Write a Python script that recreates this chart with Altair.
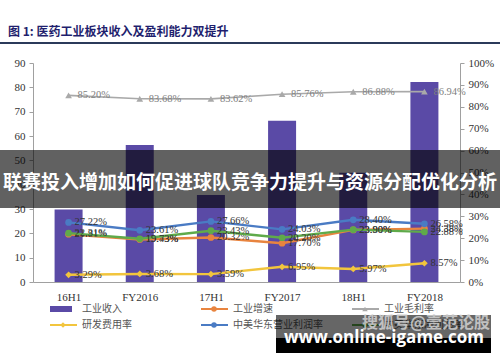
import altair as alt
import pandas as pd

categories = ["16H1", "FY2016", "17H1", "FY2017", "18H1", "FY2018"]
revenue = [29.8, 56.3, 35.8, 66.3, 44.9, 82.2]
growth = [0.2181, 0.1943, 0.2032, 0.1770, 0.2380, 0.2438]
gross_margin = [0.8520, 0.8368, 0.8362, 0.8576, 0.8688, 0.8694]
rd_ratio = [0.0329, 0.0368, 0.0359, 0.0695, 0.0597, 0.0857]
op_margin = [0.2722, 0.2361, 0.2766, 0.2403, 0.2840, 0.2658]
net_margin = [0.2231, 0.1973, 0.2343, 0.2020, 0.2390, 0.2288]

bar_name = "工业收入"
bar_color = "#5A4AA6"
line_series = ["工业毛利率", "研发费用率", "工业增速", "中美华东净利润率", "中美华东营业利润率"]
line_values = [gross_margin, rd_ratio, growth, net_margin, op_margin]
line_colors = ["#A9A9A9", "#F2C53D", "#E8843F", "#5FAA4A", "#4A7BC4"]
line_shapes = ["triangle-up", "diamond", "circle", "circle", "circle"]
label_colors = ["#808080", "#333333", "#333333", "#333333", "#333333"]

legend_order = ["工业收入", "工业增速", "工业毛利率", "研发费用率", "中美华东营业利润率", "中美华东净利润率"]

title_text = "图 1: 医药工业板块收入及盈利能力双提升"
banner_text = "联赛投入增加如何促进球队竞争力提升与资源分配优化分析"
wm_top = "搜狐号@壹范论股"
wm_url = "www.online-igame.com"

SERIF = "Liberation Serif"
CJK = "Noto Sans CJK SC"

bar_df = pd.DataFrame({"cat": categories, "rev": revenue})
rows = []
for s, vals in zip(line_series, line_values):
    for c, v in zip(categories, vals):
        rows.append({"cat": c, "series": s, "value": v, "label": f"{v*100:.2f}%"})
line_df = pd.DataFrame(rows)

xenc = alt.X("cat:N", sort=categories, title=None,
             scale=alt.Scale(type="point", padding=0.5),
             axis=alt.Axis(labelFont=SERIF, labelFontSize=11, labelColor="#333333",
                           labelAngle=0, ticks=False, domainColor="#A0A0A0",
                           labelPadding=9))

bars = alt.Chart(bar_df).mark_bar(size=28, color=bar_color).encode(
    x=xenc,
    y=alt.Y("rev:Q", title=None, scale=alt.Scale(domain=[0, 90], nice=False),
            axis=alt.Axis(values=list(range(0, 91, 10)), grid=False,
                          labelFont=SERIF, labelFontSize=11, labelColor="#333333",
                          domainColor="#A0A0A0", tickColor="#A0A0A0", tickSize=4,
                          labelPadding=4))
)

yline = alt.Y("value:Q", title=None, scale=alt.Scale(domain=[0, 1], nice=False),
              axis=alt.Axis(orient="right", format=".0%", values=[i / 10 for i in range(11)],
                            grid=False, labelFont=SERIF, labelFontSize=11,
                            labelColor="#333333", domainColor="#A0A0A0",
                            tickColor="#A0A0A0", tickSize=4, labelPadding=4))

line_layers = []
for s, col, shp, lc in zip(line_series, line_colors, line_shapes, label_colors):
    sub = alt.Chart(line_df).transform_filter(alt.datum.series == s)
    w = 1.6 if s == "工业毛利率" else 2.4
    line_layers.append(sub.mark_line(color=col, strokeWidth=w).encode(x=alt.X("cat:N", sort=categories), y=yline))
    line_layers.append(sub.mark_point(color=col, filled=True, shape=shp, size=45, opacity=1).encode(
        x=alt.X("cat:N", sort=categories), y=yline))
    line_layers.append(sub.mark_text(align="left", baseline="middle", dx=6 if s != "工业毛利率" else 9,
                                     font=SERIF, fontSize=10.5, color=lc).encode(
        x=alt.X("cat:N", sort=categories), y=yline, text="label:N"))

lines = alt.layer(*line_layers)

one = pd.DataFrame({"k": [0]})


def txt(t, x, y, size, color, font=CJK, weight="normal", align="left", opacity=1):
    return alt.Chart(one).mark_text(text=t, font=font, fontSize=size, color=color,
                                    fontWeight=weight, align=align, baseline="middle",
                                    opacity=opacity).encode(x=alt.value(x), y=alt.value(y))


def box(x1, x2, y1, y2, color, opacity=1):
    return alt.Chart(one).mark_rect(color=color, opacity=opacity).encode(
        x=alt.value(x1), x2=alt.value(x2), y=alt.value(y1), y2=alt.value(y2))


annot = []
# title
annot.append(txt(title_text, -25, -31, 12, "#1F1F6E", weight="bold"))
annot.append(alt.Chart(one).mark_rule(color="#2B3A5A", strokeWidth=2).encode(
    x=alt.value(-33), x2=alt.value(467), y=alt.value(-20)))

# legend
legend_colors = {bar_name: bar_color}
legend_shapes = {}
for s, c, shp in zip(line_series, line_colors, line_shapes):
    legend_colors[s] = c
    legend_shapes[s] = shp
for i, name in enumerate(legend_order):
    col, row = i % 3, i // 3
    x0 = 17 + col * 151
    y0 = 246 + row * 16
    c = legend_colors[name]
    if name == bar_name:
        annot.append(box(x0, x0 + 22, y0 - 3, y0 + 3, c))
    else:
        annot.append(alt.Chart(one).mark_rule(color=c, strokeWidth=2).encode(
            x=alt.value(x0), x2=alt.value(x0 + 27), y=alt.value(y0)))
        annot.append(alt.Chart(one).mark_point(color=c, filled=True, shape=legend_shapes[name],
                                               size=30, opacity=1).encode(
            x=alt.value(x0 + 13), y=alt.value(y0)))
    annot.append(txt(name, x0 + 32, y0, 10, "#555555"))

# banner overlay
annot.append(box(-33, 467, 87, 145, "#000000", 0.62))
annot.append(txt(banner_text, 217, 120, 19, "#FFFFFF", weight="bold", align="center"))

# watermark
annot.append(box(243, 458, 252, 275, "#000000", 0.6))
annot.append(box(243, 458, 275, 290, "#000000", 1))
annot.append(txt(wm_top, 393, 260, 16, "#D8D8D8", weight="bold", align="center", opacity=0.8))
annot.append(txt(wm_url, 351, 275, 17, "#FFFFFF", font="Open Sans", weight="bold", align="center"))

chart = alt.layer(bars, lines, *annot).resolve_scale(y="independent").properties(
    width=427, height=219,
    padding={"left": 33, "top": 63, "right": 40, "bottom": 80},
    autosize="none",
    background="#FFFFFF",
).configure_view(stroke=None)

chart.save("out.html", embed_options={"renderer": "svg", "actions": False})
